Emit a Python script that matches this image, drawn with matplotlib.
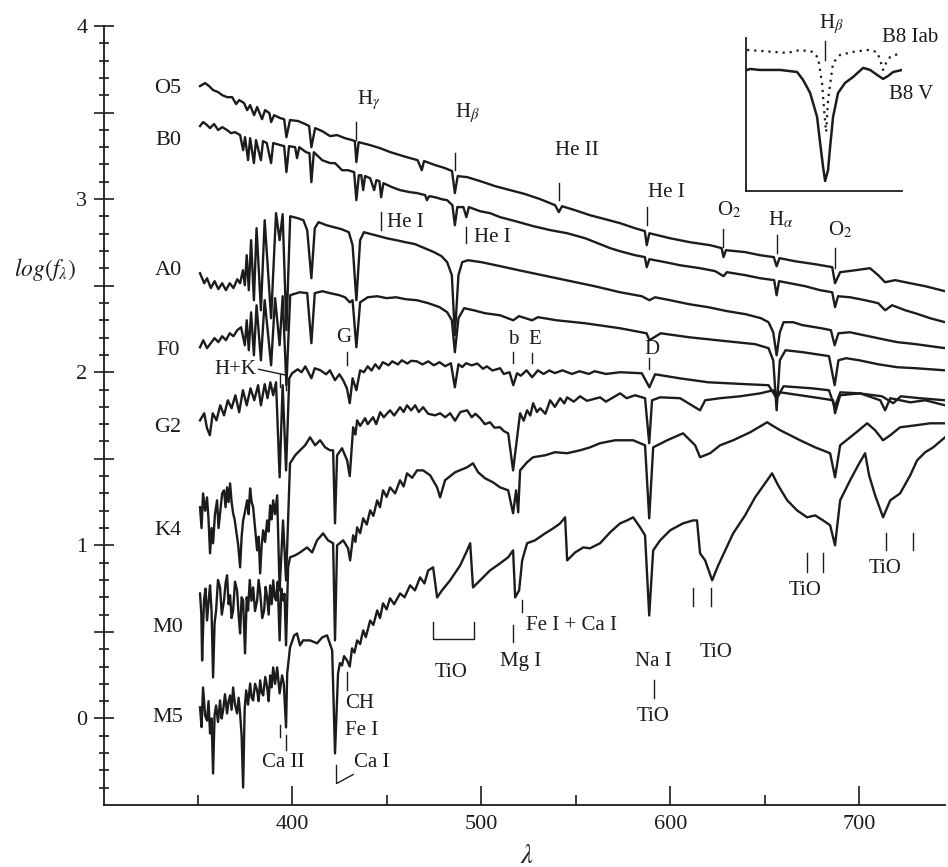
import numpy as np
import matplotlib.pyplot as plt
from matplotlib.ticker import MultipleLocator, FixedLocator, FuncFormatter

plt.rcParams['font.family'] = ['Liberation Serif', 'DejaVu Serif']
plt.rcParams['mathtext.fontset'] = 'stix'

ink = '#1c1c1c'

# spectra: [wavelength (nm), log f_lambda]
o5 = np.array([
    [351.3, 3.653], [354.0, 3.670], [356.1, 3.653], [358.2, 3.630], [360.9, 3.618], [363.0, 3.601],
    [365.6, 3.589], [368.3, 3.589], [370.4, 3.549], [372.0, 3.572], [374.6, 3.555], [376.2, 3.514],
    [377.8, 3.543], [379.9, 3.485], [381.5, 3.532], [384.1, 3.462], [385.7, 3.514], [388.0, 3.497],
    [388.9, 3.445], [390.5, 3.485], [393.7, 3.468], [395.8, 3.462], [397.0, 3.358], [398.9, 3.457],
    [403.2, 3.451], [406.9, 3.434], [409.0, 3.422], [410.2, 3.300], [412.2, 3.410], [415.9, 3.393],
    [420.1, 3.364], [423.8, 3.370], [428.0, 3.352], [431.7, 3.341], [433.2, 3.335], [434.0, 3.214],
    [435.2, 3.329], [441.3, 3.312], [446.6, 3.294], [451.8, 3.272], [457.1, 3.254], [462.4, 3.237],
    [466.4, 3.225], [468.6, 3.167], [469.8, 3.220], [475.6, 3.197], [480.9, 3.179], [484.6, 3.162],
    [486.1, 3.035], [487.6, 3.133], [492.6, 3.127], [499.5, 3.104], [507.4, 3.075], [515.3, 3.052],
    [523.3, 3.029], [531.2, 3.000], [539.1, 2.965], [541.1, 2.925], [542.8, 2.959], [549.7, 2.936],
    [557.6, 2.907], [565.6, 2.884], [573.5, 2.861], [581.4, 2.832], [586.6, 2.815], [587.6, 2.734],
    [589.0, 2.803], [599.9, 2.774], [610.5, 2.751], [621.1, 2.734], [627.2, 2.717], [628.2, 2.665],
    [629.5, 2.705], [639.6, 2.694], [647.6, 2.676], [654.8, 2.665], [656.3, 2.612], [657.8, 2.659],
    [666.1, 2.641], [676.7, 2.624], [685.7, 2.607], [687.2, 2.514], [689.9, 2.578], [697.8, 2.589],
    [705.7, 2.601], [710.0, 2.561], [713.7, 2.520], [719.0, 2.532], [727.0, 2.514], [734.9, 2.497],
    [745.4, 2.468]])

b0 = np.array([
    [351.3, 3.422], [352.9, 3.445], [355.0, 3.428], [356.6, 3.410], [358.7, 3.434], [360.9, 3.399],
    [363.0, 3.416], [365.6, 3.399], [367.7, 3.381], [369.8, 3.387], [372.5, 3.370], [374.1, 3.283],
    [375.1, 3.358], [376.7, 3.225], [377.8, 3.352], [379.8, 3.208], [380.9, 3.341], [383.5, 3.225],
    [384.6, 3.335], [386.6, 3.324], [388.9, 3.208], [390.0, 3.324], [393.7, 3.312], [395.8, 3.306],
    [397.0, 3.156], [398.4, 3.306], [401.6, 3.300], [402.6, 3.237], [403.8, 3.300], [407.4, 3.271],
    [409.2, 3.265], [410.2, 3.098], [411.5, 3.271], [415.9, 3.225], [420.1, 3.208], [422.7, 3.208],
    [426.4, 3.167], [429.6, 3.167], [432.8, 3.156], [434.0, 2.994], [435.3, 3.138], [436.6, 3.138],
    [437.6, 3.052], [438.6, 3.133], [441.3, 3.121], [443.4, 3.052], [444.6, 3.110], [446.2, 3.104],
    [447.1, 3.011], [448.3, 3.092], [452.9, 3.069], [457.1, 3.052], [462.4, 3.040], [466.1, 3.035],
    [470.4, 3.023], [471.3, 2.994], [472.5, 3.017], [475.6, 3.011], [479.3, 2.999], [482.0, 2.994],
    [484.8, 2.965], [486.1, 2.849], [487.4, 2.954], [490.6, 2.954], [492.2, 2.896], [493.5, 2.954],
    [499.5, 2.930], [504.7, 2.919], [510.0, 2.896], [518.0, 2.873], [527.5, 2.844], [536.5, 2.821],
    [545.5, 2.803], [555.0, 2.774], [562.9, 2.740], [568.2, 2.717], [573.5, 2.699], [581.4, 2.676],
    [586.6, 2.665], [587.6, 2.607], [589.0, 2.653], [597.3, 2.636], [605.2, 2.618], [615.8, 2.601],
    [623.8, 2.584], [628.2, 2.555], [630.0, 2.578], [639.6, 2.561], [647.6, 2.543], [655.0, 2.532],
    [656.3, 2.445], [657.6, 2.526], [663.4, 2.514], [671.4, 2.497], [679.3, 2.474], [685.7, 2.462],
    [687.2, 2.376], [688.8, 2.439], [695.2, 2.433], [703.1, 2.416], [710.0, 2.399], [713.7, 2.358],
    [717.4, 2.387], [724.3, 2.358], [729.6, 2.341], [737.5, 2.312], [745.4, 2.289]])

a0 = np.array([
    [351.3, 2.572], [353.5, 2.514], [355.0, 2.543], [357.0, 2.486], [359.0, 2.526], [361.0, 2.480],
    [363.0, 2.514], [365.0, 2.474], [367.0, 2.514], [369.0, 2.486], [371.0, 2.537], [372.5, 2.514],
    [374.0, 2.589], [375.0, 2.503], [376.0, 2.676], [377.1, 2.474], [378.3, 2.763], [379.8, 2.416],
    [381.2, 2.832], [383.5, 2.358], [385.5, 2.878], [388.9, 2.312], [391.5, 2.919], [393.4, 2.763],
    [395.0, 2.913], [397.0, 2.243], [399.0, 2.901], [403.0, 2.890], [406.0, 2.878], [408.0, 2.820],
    [410.2, 2.543], [412.0, 2.832], [414.0, 2.867], [418.0, 2.850], [422.0, 2.838], [426.0, 2.827],
    [430.0, 2.809], [432.0, 2.734], [434.0, 2.416], [436.0, 2.763], [438.0, 2.809], [442.0, 2.797],
    [446.0, 2.786], [450.0, 2.774], [455.0, 2.763], [460.0, 2.751], [465.0, 2.740], [470.0, 2.717],
    [475.0, 2.694], [479.0, 2.671], [482.0, 2.636], [484.5, 2.561], [486.1, 2.214], [488.0, 2.561],
    [490.0, 2.636], [493.0, 2.647], [500.0, 2.636], [510.0, 2.613], [520.0, 2.589], [530.0, 2.566],
    [540.0, 2.543], [550.0, 2.520], [560.0, 2.497], [573.5, 2.462], [585.0, 2.439], [589.0, 2.416],
    [592.0, 2.433], [600.0, 2.416], [610.0, 2.393], [620.0, 2.376], [630.0, 2.353], [640.0, 2.335],
    [648.0, 2.312], [652.0, 2.289], [654.5, 2.231], [656.3, 2.098], [658.0, 2.231], [660.0, 2.289],
    [665.0, 2.289], [670.0, 2.272], [680.0, 2.254], [685.0, 2.243], [687.0, 2.156], [689.0, 2.225],
    [695.0, 2.231], [705.0, 2.208], [715.0, 2.185], [720.0, 2.174], [730.0, 2.162], [745.4, 2.139]])

f0 = np.array([
    [351.3, 2.144], [353.0, 2.185], [355.0, 2.139], [357.0, 2.168], [359.0, 2.197], [361.0, 2.174],
    [363.0, 2.208], [365.0, 2.185], [367.0, 2.225], [369.0, 2.208], [371.0, 2.243], [373.0, 2.260],
    [375.0, 2.156], [376.0, 2.300], [377.1, 2.127], [378.3, 2.346], [379.8, 2.098], [381.2, 2.387],
    [383.5, 2.069], [385.5, 2.416], [388.9, 2.040], [391.0, 2.428], [393.4, 2.156], [395.0, 2.439],
    [397.0, 1.925], [399.0, 2.445], [404.0, 2.462], [408.0, 2.457], [410.2, 2.168], [412.0, 2.457],
    [416.0, 2.468], [420.0, 2.457], [425.0, 2.445], [428.0, 2.433], [430.5, 2.404], [432.0, 2.416],
    [434.0, 2.144], [436.0, 2.404], [440.0, 2.433], [445.0, 2.439], [450.0, 2.428], [455.0, 2.433],
    [460.0, 2.422], [466.0, 2.416], [472.0, 2.399], [478.0, 2.376], [482.0, 2.347], [484.5, 2.300],
    [486.1, 2.115], [488.0, 2.312], [491.0, 2.370], [496.0, 2.358], [502.0, 2.341], [510.0, 2.329],
    [517.0, 2.300], [520.0, 2.324], [527.0, 2.300], [530.0, 2.318], [540.0, 2.300], [555.0, 2.283],
    [573.5, 2.254], [587.5, 2.225], [589.0, 2.185], [595.0, 2.225], [610.0, 2.202], [630.0, 2.179],
    [645.0, 2.162], [652.0, 2.139], [654.5, 2.069], [656.3, 1.780], [658.0, 2.069], [661.0, 2.127],
    [670.0, 2.116], [684.0, 2.093], [687.0, 1.925], [689.0, 2.069], [693.0, 2.081], [700.0, 2.069],
    [710.0, 2.046], [720.0, 2.029], [730.0, 2.023], [745.4, 2.011]])

g2 = np.array([
    [351.3, 1.722], [353.5, 1.763], [355.0, 1.676], [356.5, 1.636], [358.0, 1.763], [360.0, 1.722],
    [362.0, 1.809], [364.0, 1.751], [366.0, 1.838], [368.0, 1.792], [370.0, 1.867], [372.0, 1.769],
    [374.0, 1.896], [376.0, 1.809], [378.0, 1.907], [380.0, 1.838], [382.0, 1.925], [383.5, 1.809],
    [385.5, 1.931], [387.0, 1.850], [388.5, 1.942], [390.0, 1.867], [391.5, 1.942], [393.4, 1.393],
    [395.0, 1.925], [396.8, 1.433], [398.5, 1.965], [400.0, 1.994], [403.0, 2.017], [405.0, 2.000],
    [407.0, 2.034], [410.2, 1.965], [412.0, 2.023], [415.0, 2.011], [418.0, 1.988], [420.0, 2.011],
    [422.7, 1.954], [425.0, 1.988], [427.0, 1.954], [429.0, 1.907], [430.5, 1.821], [432.0, 1.965],
    [434.0, 1.896], [436.0, 2.011], [438.0, 2.000], [440.0, 2.034], [442.0, 2.010], [444.0, 2.046],
    [446.0, 2.020], [448.0, 2.058], [451.0, 2.040], [453.0, 2.063], [456.0, 2.045], [458.0, 2.069],
    [461.0, 2.050], [463.0, 2.066], [466.0, 2.063], [469.0, 2.045], [472.0, 2.063], [475.0, 2.040],
    [478.0, 2.058], [481.0, 2.035], [484.0, 2.052], [486.1, 1.913], [488.0, 2.046], [490.0, 2.030],
    [492.0, 2.052], [495.0, 2.040], [498.0, 2.050], [501.0, 2.020], [503.0, 2.034], [506.0, 2.010],
    [510.0, 2.023], [512.0, 1.990], [515.0, 2.000], [517.0, 1.925], [519.0, 1.994], [521.0, 1.980],
    [524.0, 2.011], [527.0, 1.971], [530.0, 2.011], [533.0, 1.990], [536.0, 2.010], [539.0, 1.995],
    [543.0, 2.011], [548.0, 1.990], [552.0, 2.006], [557.0, 1.990], [560.0, 2.006], [566.0, 1.990],
    [573.5, 2.000], [585.0, 1.994], [589.0, 1.913], [592.0, 1.988], [605.0, 1.965], [620.0, 1.942],
    [640.0, 1.931], [652.0, 1.925], [656.3, 1.850], [660.0, 1.919], [675.0, 1.907], [684.0, 1.896],
    [687.0, 1.798], [690.0, 1.884], [700.0, 1.878], [712.0, 1.861], [718.0, 1.821], [722.0, 1.861],
    [732.0, 1.850], [745.4, 1.838]])

k4 = np.array([
    [351.3, 1.220], [352.1, 1.100], [352.9, 1.300], [354.0, 1.200], [355.0, 1.277], [355.8, 1.150],
    [356.6, 0.954], [357.4, 1.100], [358.2, 1.012], [359.2, 1.180], [360.3, 1.260], [361.1, 1.100],
    [361.9, 1.185], [363.0, 1.300], [364.0, 1.318], [364.8, 1.220], [365.6, 1.335], [366.4, 1.250],
    [367.2, 1.358], [368.0, 1.250], [368.8, 1.185], [369.6, 1.150], [370.4, 1.087], [371.5, 1.000],
    [372.5, 0.873], [373.3, 1.050], [374.1, 1.144], [375.2, 1.200], [376.2, 1.260], [377.0, 1.180],
    [377.8, 1.329], [378.6, 1.250], [379.4, 1.220], [380.4, 1.100], [381.5, 0.971], [382.3, 1.050],
    [383.1, 0.838], [383.9, 1.000], [384.7, 1.087], [385.7, 1.020], [386.8, 1.144], [387.6, 1.080],
    [388.4, 1.231], [389.2, 1.150], [390.0, 1.260], [391.0, 1.180], [392.1, 1.289], [393.4, 0.740],
    [395.2, 1.144], [396.8, 0.798], [397.9, 1.144], [398.9, 1.474], [401.6, 1.520], [404.2, 1.549],
    [406.9, 1.578], [409.5, 1.624], [412.2, 1.578], [414.8, 1.607], [417.5, 1.566], [420.1, 1.549],
    [421.7, 1.549], [422.7, 1.127], [423.8, 1.520], [426.4, 1.561], [429.1, 1.491], [430.5, 1.400],
    [432.3, 1.682], [433.5, 1.640], [434.4, 1.722], [436.0, 1.690], [438.6, 1.734], [440.0, 1.700],
    [442.8, 1.740], [444.5, 1.700], [446.6, 1.769], [448.5, 1.740], [451.8, 1.780], [454.0, 1.750],
    [457.1, 1.798], [459.0, 1.770], [460.8, 1.809], [463.0, 1.780], [465.1, 1.809], [467.0, 1.770],
    [469.3, 1.798], [472.0, 1.760], [475.6, 1.751], [478.3, 1.763], [481.0, 1.740], [483.6, 1.763],
    [486.2, 1.720], [489.0, 1.770], [492.6, 1.780], [495.0, 1.740], [497.0, 1.760], [499.5, 1.734],
    [502.0, 1.700], [504.7, 1.711], [507.0, 1.680], [510.0, 1.682], [512.0, 1.660], [514.3, 1.647],
    [516.9, 1.433], [518.5, 1.578], [520.6, 1.763], [522.5, 1.720], [524.3, 1.780], [526.0, 1.750],
    [527.5, 1.821], [529.5, 1.770], [531.2, 1.792], [534.0, 1.760], [536.5, 1.838], [539.0, 1.800],
    [541.8, 1.850], [544.0, 1.820], [545.5, 1.855], [549.0, 1.830], [552.3, 1.861], [556.0, 1.835],
    [562.9, 1.855], [566.0, 1.830], [573.5, 1.878], [577.0, 1.850], [581.4, 1.867], [586.7, 1.850],
    [588.9, 1.590], [590.4, 1.838], [594.7, 1.855], [605.2, 1.850], [615.8, 1.780], [618.5, 1.838],
    [626.4, 1.850], [637.0, 1.861], [647.6, 1.878], [654.5, 1.896], [656.3, 1.850], [658.2, 1.884],
    [668.7, 1.867], [679.3, 1.850], [686.2, 1.838], [687.2, 1.763], [689.9, 1.867], [700.5, 1.878],
    [711.1, 1.838], [713.7, 1.780], [716.4, 1.850], [727.0, 1.826], [734.9, 1.838], [745.4, 1.809]])

m0 = np.array([
    [351.3, 0.722], [352.0, 0.600], [352.4, 0.335], [353.4, 0.682], [354.2, 0.750], [355.0, 0.566],
    [356.0, 0.700], [356.6, 0.769], [357.4, 0.620], [358.2, 0.237], [359.0, 0.550], [359.8, 0.624],
    [360.8, 0.800], [361.9, 0.757], [362.8, 0.600], [364.0, 0.682], [364.8, 0.780], [365.6, 0.827],
    [366.4, 0.660], [367.2, 0.711], [368.0, 0.580], [368.8, 0.624], [369.8, 0.790], [370.9, 0.740],
    [371.7, 0.600], [372.5, 0.491], [373.3, 0.700], [374.1, 0.682], [375.1, 0.376], [376.0, 0.700],
    [376.7, 0.624], [377.6, 0.800], [378.5, 0.680], [379.4, 0.757], [380.4, 0.620], [381.5, 0.682],
    [382.3, 0.800], [383.1, 0.728], [384.2, 0.580], [385.2, 0.624], [386.0, 0.760], [386.8, 0.699],
    [387.6, 0.600], [388.4, 0.769], [389.2, 0.660], [390.0, 0.798], [390.8, 0.700], [391.5, 0.682],
    [392.4, 0.790], [393.4, 0.451], [394.3, 0.750], [395.2, 0.682], [396.0, 0.720], [396.8, 0.422],
    [397.9, 0.873], [398.9, 0.931], [401.6, 0.942], [404.2, 0.959], [407.9, 0.988], [410.6, 0.959],
    [413.2, 1.029], [416.4, 1.069], [419.0, 1.029], [421.7, 1.012], [422.7, 0.451], [423.8, 1.000],
    [427.0, 1.029], [429.6, 0.983], [430.7, 0.913], [432.3, 1.058], [433.5, 1.020], [434.4, 1.104],
    [436.0, 1.070], [437.6, 1.156], [439.5, 1.120], [441.3, 1.202], [443.0, 1.170], [445.0, 1.260],
    [446.5, 1.220], [448.1, 1.318], [450.0, 1.280], [451.8, 1.335], [454.5, 1.300], [457.1, 1.376],
    [459.0, 1.340], [460.8, 1.416], [463.5, 1.390], [466.1, 1.433], [469.3, 1.433], [473.0, 1.405],
    [476.7, 1.335], [478.3, 1.277], [480.9, 1.376], [486.2, 1.422], [492.6, 1.451], [495.7, 1.474],
    [498.4, 1.422], [502.1, 1.387], [506.3, 1.364], [510.0, 1.335], [514.3, 1.318], [516.9, 1.185],
    [518.5, 1.318], [519.6, 1.191], [520.6, 1.433], [524.3, 1.480], [527.5, 1.509], [533.8, 1.520],
    [539.1, 1.538], [545.5, 1.532], [552.3, 1.549], [557.6, 1.566], [562.9, 1.590], [570.9, 1.607],
    [580.4, 1.607], [586.7, 1.578], [588.9, 1.156], [591.0, 1.566], [598.4, 1.607], [606.8, 1.647],
    [613.2, 1.578], [615.8, 1.509], [621.1, 1.532], [626.4, 1.578], [633.3, 1.607], [642.3, 1.653],
    [651.3, 1.711], [653.9, 1.693], [658.2, 1.665], [668.7, 1.607], [676.7, 1.566], [684.6, 1.532],
    [687.2, 1.393], [689.9, 1.578], [697.8, 1.647], [704.2, 1.705], [708.4, 1.665], [712.6, 1.607],
    [716.4, 1.636], [721.6, 1.682], [729.6, 1.693], [737.5, 1.705], [745.4, 1.705]])

m5 = np.array([
    [351.3, 0.064], [352.1, -0.050], [352.9, 0.179], [354.0, 0.017], [355.0, -0.012], [355.8, 0.100],
    [356.6, -0.087], [357.4, 0.000], [358.2, -0.318], [359.0, 0.020], [359.8, 0.075], [360.8, -0.020],
    [361.9, 0.104], [362.7, 0.000], [363.5, 0.046], [364.5, 0.140], [365.6, 0.029], [366.4, 0.100],
    [367.2, 0.133], [368.0, 0.050], [368.8, 0.179], [369.8, 0.080], [370.9, 0.029], [371.7, 0.120],
    [372.5, 0.029], [373.3, -0.100], [374.1, -0.399], [374.9, 0.050], [375.7, 0.162], [376.7, 0.080],
    [377.8, 0.202], [378.6, 0.120], [379.4, 0.104], [380.4, 0.200], [381.5, 0.162], [382.3, 0.100],
    [383.1, 0.220], [383.9, 0.150], [384.7, 0.133], [385.8, 0.240], [386.8, 0.179], [387.6, 0.100],
    [388.4, 0.249], [389.2, 0.180], [390.0, 0.295], [391.0, 0.200], [392.1, 0.295], [393.4, 0.145],
    [394.7, 0.249], [395.6, 0.200], [396.8, -0.052], [397.4, 0.260], [398.9, 0.410], [401.1, 0.480],
    [402.6, 0.491], [404.2, 0.422], [405.8, 0.451], [409.5, 0.451], [413.2, 0.434], [415.9, 0.468],
    [418.5, 0.480], [421.2, 0.393], [422.7, -0.202], [424.3, 0.260], [425.3, 0.320], [426.4, 0.306],
    [427.5, 0.360], [429.1, 0.335], [430.5, 0.300], [431.7, 0.405], [433.0, 0.380], [434.4, 0.451],
    [436.0, 0.430], [437.6, 0.509], [439.0, 0.470], [441.3, 0.566], [443.0, 0.540], [445.0, 0.624],
    [446.5, 0.580], [448.1, 0.665], [450.0, 0.630], [451.8, 0.694], [454.0, 0.660], [457.1, 0.722],
    [459.5, 0.700], [462.4, 0.769], [465.0, 0.740], [467.7, 0.815], [470.0, 0.780], [472.0, 0.855],
    [474.6, 0.873], [476.7, 0.699], [479.3, 0.740], [483.6, 0.798], [488.9, 0.884], [492.6, 0.971],
    [494.2, 1.012], [495.7, 0.757], [499.5, 0.798], [504.7, 0.855], [510.0, 0.896], [514.3, 0.931],
    [516.9, 0.971], [518.0, 0.699], [520.1, 0.740], [521.7, 0.913], [524.3, 1.012], [528.5, 1.029],
    [533.8, 1.069], [538.1, 1.098], [541.8, 1.127], [544.4, 1.162], [545.5, 0.913], [549.7, 0.959],
    [554.0, 0.988], [557.6, 0.983], [562.9, 1.012], [568.2, 1.075], [573.5, 1.127], [577.2, 1.144],
    [580.4, 1.162], [584.1, 1.104], [586.7, 1.058], [588.9, 0.595], [591.0, 0.971], [594.7, 1.029],
    [600.0, 1.087], [606.8, 1.127], [612.1, 1.144], [614.2, 1.144], [615.8, 0.954], [618.5, 0.913],
    [622.2, 0.798], [625.4, 0.884], [629.1, 0.971], [633.3, 1.069], [639.6, 1.173], [644.9, 1.277],
    [651.3, 1.376], [653.9, 1.416], [657.1, 1.347], [661.9, 1.260], [667.1, 1.202], [672.4, 1.162],
    [676.7, 1.173], [680.9, 1.144], [684.6, 1.116], [687.2, 1.000], [689.9, 1.260], [695.2, 1.376],
    [699.4, 1.462], [703.1, 1.532], [705.2, 1.405], [708.4, 1.289], [712.6, 1.162], [716.4, 1.260],
    [721.6, 1.300], [727.0, 1.405], [730.6, 1.491], [734.9, 1.538], [739.1, 1.566], [745.4, 1.624]])

spectral_types = ["O5", "B0", "A0", "F0", "G2", "K4", "M0", "M5"]
spectra = [o5, b0, a0, f0, g2, k4, m0, m5]
label_y = [3.64, 3.34, 2.59, 2.127, 1.682, 1.087, 0.526, 0.006]

# inset: H-beta profile of a B8 dwarf and a B8 supergiant
b8v = np.array([
    [476.13, 1.000], [476.51, 1.008], [477.79, 1.000], [480.36, 1.000], [482.54, 0.983],
    [483.31, 0.917], [484.21, 0.810], [485.10, 0.612], [485.49, 0.397], [485.87, 0.198],
    [486.13, 0.083], [486.51, 0.174], [486.77, 0.364], [487.15, 0.612], [487.79, 0.810],
    [488.69, 0.893], [489.72, 0.942], [491.00, 1.017], [491.90, 1.000], [492.79, 0.959],
    [493.56, 0.926], [494.20, 0.950], [494.85, 0.983], [496.00, 1.000]])
b8iab = np.array([
    [476.13, 1.165], [479.46, 1.149], [481.26, 1.140], [482.92, 1.165], [484.59, 1.149],
    [485.23, 1.099], [485.74, 0.893], [486.00, 0.669], [486.26, 0.488], [486.51, 0.752],
    [486.90, 0.942], [487.15, 1.058], [488.05, 1.124], [489.72, 1.149], [491.51, 1.165],
    [492.79, 1.149], [493.18, 1.083], [493.56, 1.000], [493.95, 1.058], [494.46, 1.107],
    [495.49, 1.132]])

fig = plt.figure(figsize=(9.48, 8.67), dpi=100)
ax = fig.add_axes([0.1097, 0.0715, 0.8872, 0.8985])

for sp in spectra:
    ax.plot(sp[:, 0], sp[:, 1], color=ink, lw=1.7)

for name, yl in zip(spectral_types, label_y):
    ax.text(334.4, yl, name, fontsize=16, ha='center', va='center', color=ink)

ax.set_xlim(300.5, 745.4)
ax.set_ylim(-0.5, 4.0)
ax.spines[['top', 'right']].set_visible(False)
for s in ['left', 'bottom']:
    ax.spines[s].set_linewidth(1.3)
    ax.spines[s].set_color(ink)

ax.xaxis.set_major_locator(MultipleLocator(100))
ax.xaxis.set_minor_locator(MultipleLocator(50))
ax.tick_params(axis='x', which='major', direction='in', length=14, width=1.2, pad=7,
               labelsize=16, color=ink, labelcolor=ink)
ax.tick_params(axis='x', which='minor', direction='in', length=7, width=1.2, color=ink)

ax.yaxis.set_major_locator(FixedLocator(np.arange(0, 4.01, 0.5)))
ax.yaxis.set_minor_locator(FixedLocator([v / 10 for v in range(-4, 40) if v % 5 != 0]))
ax.yaxis.set_major_formatter(FuncFormatter(lambda v, p: f'{v:.0f}' if abs(v - round(v)) < 1e-6 else ''))
ax.tick_params(axis='y', which='major', direction='inout', length=14, width=1.2, pad=5,
               labelsize=16, color=ink, labelcolor=ink)
ax.tick_params(axis='y', which='minor', direction='inout', length=7, width=1.2, color=ink)

fig.text(0.047, 0.689, r'$log(f_{\lambda})$', fontsize=17, ha='center', va='center', color=ink)
fig.text(0.556, 0.012, r'$\lambda$', fontsize=19, ha='center', va='center', color=ink)


def mark(x, y0, y1):
    ax.plot([x, x], [y0, y1], color=ink, lw=1.0)


def note(x, y, s, ha='center'):
    ax.text(x, y, s, fontsize=15, ha=ha, va='center', color=ink)


# line identifications, upper spectra
mark(434.0, 3.341, 3.445); note(440.7, 3.57, r'H$_{\gamma}$')
mark(486.1, 3.167, 3.266); note(492.6, 3.50, r'H$_{\beta}$')
mark(541.1, 2.994, 3.092); note(550.8, 3.283, 'He II')
mark(447.1, 2.821, 2.925); note(450.3, 2.867, 'He I', ha='left')
mark(492.2, 2.746, 2.838); note(496.3, 2.780, 'He I', ha='left')
mark(587.6, 2.850, 2.954); note(597.9, 3.040, 'He I')
mark(628.0, 2.722, 2.826); note(631.2, 2.936, r'O$_{2}$')
mark(656.3, 2.688, 2.792); note(658.7, 2.878, r'H$_{\alpha}$')
mark(687.0, 2.601, 2.717); note(689.9, 2.821, r'O$_{2}$')
mark(429.0, 2.040, 2.115); note(427.5, 2.20, 'G')
mark(516.9, 2.052, 2.115); note(516.9, 2.19, 'b')
mark(527.0, 2.052, 2.110); note(528.5, 2.19, 'E')
mark(589.0, 2.020, 2.080); note(590.4, 2.133, 'D')

# H+K
note(381.0, 2.017, 'H+K', ha='right')
ax.plot([382.3, 396.8], [2.017, 1.983], color=ink, lw=1.0)
mark(393.4, 1.913, 1.992)
mark(396.8, 1.896, 1.983)

# lower spectra
mark(429.1, 0.162, 0.266)
note(428.0, 0.087, 'CH', ha='left')
note(428.0, -0.069, 'Fe I', ha='left')
ax.plot([423.5, 423.5, 432.3], [-0.272, -0.376, -0.324], color=ink, lw=1.0)
note(432.8, -0.254, 'Ca I', ha='left')
mark(393.4, -0.110, -0.040)
mark(396.8, -0.185, -0.098)
note(395.2, -0.254, 'Ca II')
ax.plot([474.6, 474.6, 496.3, 496.3], [0.555, 0.457, 0.457, 0.555], color=ink, lw=1.0)
note(484.1, 0.266, 'TiO')
mark(516.9, 0.439, 0.538); note(521.1, 0.33, 'Mg I')
mark(521.7, 0.613, 0.682); note(523.5, 0.538, 'Fe I + Ca I', ha='left')
note(591.0, 0.33, 'Na I')
mark(591.5, 0.116, 0.220)
note(591.0, 0.012, 'TiO')
mark(612.1, 0.647, 0.751); mark(621.6, 0.647, 0.751); note(624.3, 0.381, 'TiO')
mark(672.4, 0.844, 0.954); mark(680.9, 0.844, 0.954); note(671.4, 0.740, 'TiO')
mark(714.2, 0.971, 1.069); mark(728.5, 0.971, 1.069); note(713.7, 0.867, 'TiO')

# inset
axi = fig.add_axes([0.787, 0.7797, 0.1646, 0.1765])
axi.patch.set_visible(False)
axi.plot(b8v[:, 0], b8v[:, 1], color=ink, lw=1.8)
axi.plot(b8iab[:, 0], b8iab[:, 1], color=ink, lw=1.6, linestyle=(0, (1, 2.2)))
axi.set_xlim(476, 496)
axi.set_ylim(0, 1.264)
axi.spines[['top', 'right']].set_visible(False)
for s in ['left', 'bottom']:
    axi.spines[s].set_linewidth(1.3)
    axi.spines[s].set_color(ink)
axi.set_xticks([])
axi.set_yticks([])
axi.plot([486.1, 486.1], [1.083, 1.24], color=ink, lw=1.0, clip_on=False)
axi.text(486.9, 1.38, r'H$_{\beta}$', fontsize=15, ha='center', va='center', color=ink)
axi.text(497.0, 1.264, 'B8 Iab', fontsize=15, ha='center', va='center', color=ink)
axi.text(497.2, 0.793, 'B8 V', fontsize=15, ha='center', va='center', color=ink)

fig.savefig('out.png', dpi=100)
